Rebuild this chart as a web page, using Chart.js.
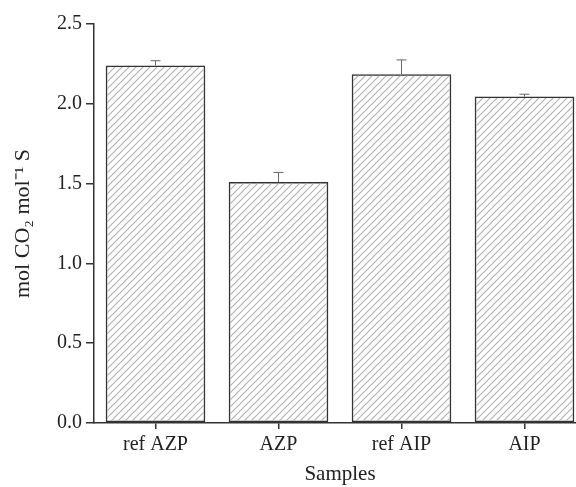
<!DOCTYPE html>
<html>
<head>
<meta charset="utf-8">
<script src="https://cdn.jsdelivr.net/npm/chart.js@4"></script>
<style>
  html, body { margin: 0; padding: 0; background: #fff; overflow: hidden; }
  #wrap { width: 590px; height: 487px; }
</style>
</head>
<body>
<div id="wrap"><canvas id="bars" width="590" height="487"></canvas></div>
<script>
var samples = ["ref AZP", "AZP", "ref AIP", "AIP"];
var means = [2.24, 1.51, 2.185, 2.045];
var errors = [0.03, 0.06, 0.09, 0.015];
var yTicks = [0, 0.5, 1.0, 1.5, 2.0, 2.5];

function hatch() {
    var c = document.createElement("canvas");
    c.width = 7;
    c.height = 7;
    var g = c.getContext("2d");
    g.strokeStyle = "#b4b4b4";
    g.lineWidth = 1.2;
    g.beginPath();
    g.moveTo(0, 7);
    g.lineTo(7, 0);
    g.moveTo(-3.5, 3.5);
    g.lineTo(3.5, -3.5);
    g.moveTo(3.5, 10.5);
    g.lineTo(10.5, 3.5);
    g.stroke();
    return g.createPattern(c, "repeat");
}

var errorBars = {
    id: "errorBars",
    afterDatasetsDraw: function(chart) {
        var ctx = chart.ctx;
        var y = chart.scales.y;
        var meta = chart.getDatasetMeta(0);
        ctx.save();
        ctx.strokeStyle = "#666";
        ctx.lineWidth = 1;
        meta.data.forEach(function(bar, i) {
            var top = y.getPixelForValue(means[i] + errors[i]);
            ctx.beginPath();
            ctx.moveTo(bar.x, bar.y);
            ctx.lineTo(bar.x, top);
            ctx.moveTo(bar.x - 5, top);
            ctx.lineTo(bar.x + 5, top);
            ctx.stroke();
        });
        ctx.restore();
    }
};

var ctx = document.getElementById("bars");
var serif = "'Liberation Serif', 'Times New Roman', serif";

new Chart(ctx, {
    type: "bar",
    data: {
        labels: samples,
        datasets: [{
            data: means,
            backgroundColor: hatch(),
            borderColor: "#333",
            borderWidth: 1.5,
            borderSkipped: false,
            barPercentage: 0.81,
            categoryPercentage: 1
        }]
    },
    options: {
        responsive: false,
        animation: false,
        layout: { padding: { top: 24, right: 4, left: 0, bottom: 0 } },
        plugins: { legend: { display: false }, tooltip: { enabled: false } },
        scales: {
            x: {
                afterFit: function(axis) { axis.height = 64; },
                grid: { drawOnChartArea: false, offset: false, tickLength: 6, color: "#333", lineWidth: 1.5 },
                border: { color: "#333", width: 1.5 },
                ticks: { color: "#222", font: { family: serif, size: 20 }, padding: 4 },
                title: { display: true, text: "Samples", color: "#222", font: { family: serif, size: 21 }, padding: { top: 0, bottom: 0 } }
            },
            y: {
                min: 0,
                max: 2.5,
                afterFit: function(axis) { axis.width = 94; },
                afterBuildTicks: function(axis) {
                    axis.ticks = yTicks.map(function(v) { return { value: v }; });
                },
                grid: { drawOnChartArea: false, tickLength: 8, color: "#333", lineWidth: 1.5 },
                border: { color: "#333", width: 1.5 },
                ticks: {
                    color: "#222",
                    font: { family: serif, size: 20 },
                    padding: 4,
                    callback: function(v) { return Number(v).toFixed(1); }
                },
                title: { display: true, text: "mol CO\u2082 mol\u207B\u00B9 S", color: "#222", font: { family: serif, size: 22 }, padding: { top: 10, bottom: 4 } }
            }
        }
    },
    plugins: [errorBars]
});
</script>
</body>
</html>
